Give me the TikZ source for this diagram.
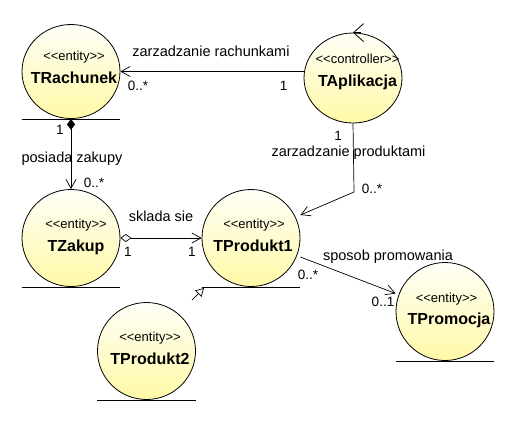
\documentclass[tikz,border=0pt]{standalone}
\usepackage{fontspec}
\setmainfont{Liberation Sans}
\usetikzlibrary{arrows.meta,positioning,shapes.geometric}
\definecolor{cfilltop}{HTML}{FFFFF8}
\definecolor{cfillbot}{HTML}{FFF9A6}
\definecolor{cstroke}{HTML}{000000}

\begin{document}
\begin{tikzpicture}[
    x=1pt, y=-1pt,
    classbody/.style={
        ellipse, draw=cstroke, line width=0.8pt,
        top color=cfilltop, bottom color=cfillbot,
        minimum width=98pt, minimum height=97pt, inner sep=0pt,
    },
    stereo/.style={anchor=base, font=\fontsize{13}{15}\selectfont},
    classname/.style={anchor=base, font=\fontsize{16}{18}\selectfont\bfseries},
    groundline/.style={line width=0.8pt, cstroke},
    assoc/.style={-{Straight Barb[length=9pt,width=10pt]}, line width=0.7pt, cstroke},
    rolelabel/.style={anchor=base, font=\fontsize{14.5}{16}\selectfont},
    multlabel/.style={anchor=base, font=\fontsize{13.5}{15}\selectfont},
]

\useasboundingbox (0,0) rectangle (513,421);

% ============================================================
% CLASSES
% ============================================================
\node[classbody, minimum height=94pt] (rach) at (71,71.5) {};
\node[stereo] (rachst) at (74,60) {<{}<entity>{}>};
\node[classname] (rachnm) at (74,83) {TRachunek};
\draw[groundline] (rach.west |- rach.south) -- (rach.east |- rach.south);

\node[classbody, minimum height=90pt] (apl) at (353,78) {};
\node[stereo] (aplst) at (357.5,63) {<{}<controller>{}>};
\node[classname] (aplnm) at (357.5,86) {TAplikacja};
% controller mark
\draw[-{Straight Barb[length=10pt,width=18pt]}, line width=0.8pt, cstroke]
    ([xshift=8pt]apl.north) -- (apl.north);

\node[classbody] (zak) at (71,238) {};
\node[stereo] (zakst) at (76,228) {<{}<entity>{}>};
\node[classname] (zaknm) at (76,251) {TZakup};
\draw[groundline] (zak.west |- zak.south) -- (zak.east |- zak.south);

\node[classbody] (prod1) at (251,238) {};
\node[stereo] (prod1st) at (254,228) {<{}<entity>{}>};
\node[classname] (prod1nm) at (253,251) {TProdukt1};
\draw[groundline] (prod1.west |- prod1.south) -- (prod1.east |- prod1.south);

\node[classbody, minimum height=98pt] (prom) at (445,311.5) {};
\node[stereo] (promst) at (446.5,302) {<{}<entity>{}>};
\node[classname] (promnm) at (449,324) {TPromocja};
\draw[groundline] (prom.west |- prom.south) -- (prom.east |- prom.south);

\node[classbody] (prod2) at (146.5,351) {};
\node[stereo] (prod2st) at (150,341) {<{}<entity>{}>};
\node[classname] (prod2nm) at (150,364) {TProdukt2};
\draw[groundline] (prod2.west |- prod2.south) -- (prod2.east |- prod2.south);

% ============================================================
% ASSOCIATIONS
% ============================================================
% TAplikacja -> TRachunek
\draw[assoc] (apl.west |- rach.east) -- (rach.east);
\node[rolelabel] (lblrach) at (211,56.5) {zarzadzanie rachunkami};
\node[multlabel] (mrach1) at (138,90) {0..*};
\node[multlabel] (mrach2) at (283.5,90.5) {1};

% TRachunek -> TZakup (composition)
\draw[{Diamond[length=11pt,width=8pt]}-{Straight Barb[length=9pt,width=10pt]},
    line width=0.7pt, cstroke] (rach.south) -- (zak.north);
\node[multlabel] (mzak1) at (60,134) {1};
\node[rolelabel] (lblzak) at (72,162) {posiada zakupy};
\node[multlabel] (mzak2) at (94,187) {0..*};

% TZakup -> TProdukt1 (aggregation)
\draw[{Diamond[open,length=11pt,width=8pt]}-{Straight Barb[length=9pt,width=10pt]},
    line width=0.7pt, cstroke] (zak.east) -- (prod1.west);
\node[rolelabel] (lblskl) at (161,221.5) {sklada sie};
\node[multlabel] (mskl1) at (128,256.5) {1};
\node[multlabel] (mskl2) at (192,256.5) {1};

% TAplikacja -> TProdukt1
\coordinate (aplbend) at (354,192);
\draw[assoc] (apl.south) -- (aplbend) -- ([yshift=23pt]prod1.east);
\node[multlabel] (mprod1) at (338,140) {1};
\node[rolelabel] (lblprod) at (348.5,156.5) {zarzadzanie produktami};
\node[multlabel] (mprod2) at (372,193) {0..*};

% TProdukt1 -> TPromocja
\draw[assoc] ([yshift=-19pt]prod1.east) -- ([yshift=18pt]prom.west);
\node[rolelabel] (lblprom) at (388,260.5) {sposob promowania};
\node[multlabel] (mprom1) at (308,279) {0..*};
\node[multlabel] (mprom2) at (383,306.5) {0..1};

% generalization stub
\coordinate (genfoot) at (192,300);
\coordinate (genhead) at (204,288);
\draw[-{Triangle[open,length=8pt,width=9pt]}, line width=0.7pt, cstroke]
    (genfoot) -- (genhead);

\end{tikzpicture}
\end{document}
